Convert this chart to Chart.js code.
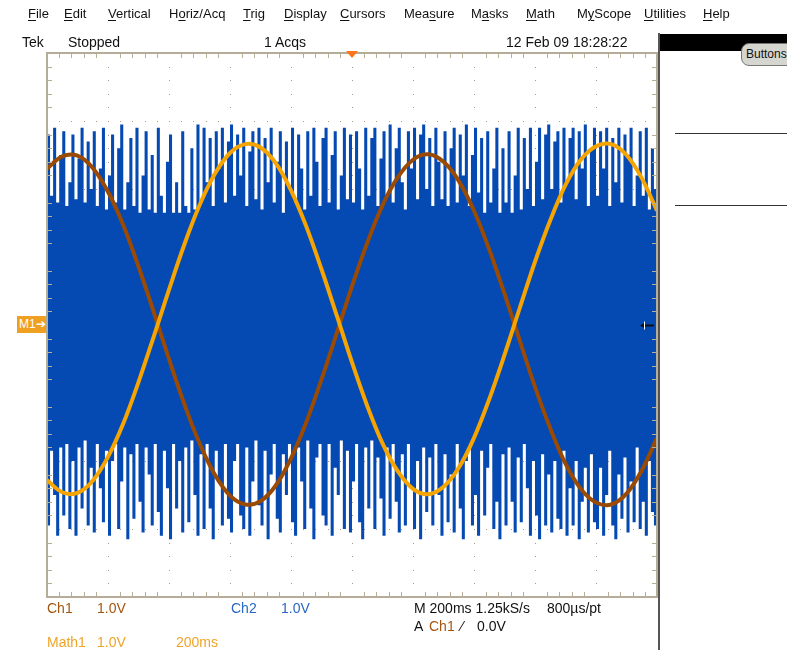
<!DOCTYPE html>
<html>
<head>
<meta charset="utf-8">
<script src="https://cdn.jsdelivr.net/npm/chart.js@4.4.1/dist/chart.umd.min.js"></script>
<style>
  html, body { margin: 0; padding: 0; background: #fff; }
  #wrap { position: relative; width: 787px; height: 650px; overflow: hidden; font-family: "Liberation Sans Narrow", "Liberation Sans", Arial, sans-serif; }
  #scope { position: absolute; left: 0; top: 0; }
  .t { position: absolute; white-space: nowrap; line-height: 14px; font-size: 14px; color: #111; }
  .menu { font-family: "Liberation Sans", Arial, sans-serif; font-size: 13px; top: 7px; }
  .menu u { text-decoration: underline; text-underline-offset: 2px; }
  .st { top: 35px; }
  .r1 { top: 601px; }
  .r2 { top: 619px; }
  .r3 { top: 635px; }
  .ch1 { color: #a3560f; }
  .ch2 { color: #2a66c4; }
  .m1 { color: #f0a42a; }
  #vline { position: absolute; left: 658px; top: 33px; width: 2px; height: 620px; background: #555; }
  #bar { position: absolute; left: 660px; top: 34px; width: 127px; height: 17px; background: #000; }
  #btn { position: absolute; left: 741px; top: 43px; width: 56px; height: 21px; background: #d6d6d0; border: 1px solid #777; border-radius: 8px; font-family: "Liberation Sans", Arial, sans-serif; font-size: 12px; line-height: 21px; padding-left: 4px; color: #111; }
  .hl { position: absolute; left: 675px; width: 112px; height: 1px; background: #333; }
  #m1 { position: absolute; left: 17px; top: 316px; width: 29px; height: 17px; background: #f0a020; color: #fff; font-size: 12px; line-height: 17px; padding-left: 2px; box-sizing: border-box; }
</style>
</head>
<body>
<div id="wrap">
  <canvas id="scope" width="787" height="650"></canvas>

  <span class="t menu" style="left:28px"><u>F</u>ile</span>
  <span class="t menu" style="left:64px"><u>E</u>dit</span>
  <span class="t menu" style="left:108px"><u>V</u>ertical</span>
  <span class="t menu" style="left:169px">H<u>o</u>riz/Acq</span>
  <span class="t menu" style="left:243px"><u>T</u>rig</span>
  <span class="t menu" style="left:284px"><u>D</u>isplay</span>
  <span class="t menu" style="left:340px"><u>C</u>ursors</span>
  <span class="t menu" style="left:404px">Mea<u>s</u>ure</span>
  <span class="t menu" style="left:471px">M<u>a</u>sks</span>
  <span class="t menu" style="left:526px"><u>M</u>ath</span>
  <span class="t menu" style="left:577px">M<u>y</u>Scope</span>
  <span class="t menu" style="left:644px"><u>U</u>tilities</span>
  <span class="t menu" style="left:703px"><u>H</u>elp</span>

  <span class="t st" style="left:22px">Tek</span>
  <span class="t st" style="left:68px">Stopped</span>
  <span class="t st" style="left:264px">1 Acqs</span>
  <span class="t st" style="left:506px">12 Feb 09 18:28:22</span>

  <div id="vline"></div>
  <div id="bar"></div>
  <div id="btn">Buttons</div>
  <div class="hl" style="top:133px"></div>
  <div class="hl" style="top:205px"></div>
  <div id="m1">M1➔</div>

  <span class="t r1 ch1" style="left:47px">Ch1</span>
  <span class="t r1 ch1" style="left:97px">1.0V</span>
  <span class="t r1 ch2" style="left:231px">Ch2</span>
  <span class="t r1 ch2" style="left:281px">1.0V</span>
  <span class="t r1" style="left:414px">M 200ms 1.25kS/s</span>
  <span class="t r1" style="left:547px">800µs/pt</span>
  <span class="t r2" style="left:414px">A</span>
  <span class="t r2 ch1" style="left:429px">Ch1</span>
  <span class="t r2" style="left:461px">⁄</span>
  <span class="t r2" style="left:477px">0.0V</span>
  <span class="t r3 m1" style="left:47px">Math1</span>
  <span class="t r3 m1" style="left:97px">1.0V</span>
  <span class="t r3 m1" style="left:176px">200ms</span>
</div>

<script>
// time axis in ms (10 div x 200 ms), vertical in volts (1.0 V/div, 8 div)
const sineTimesMs = [0, 50, 100, 150, 200, 250, 300, 350, 400, 450, 500, 550, 600, 650, 700, 750, 800, 850, 900, 950,
  1000, 1050, 1100, 1150, 1200, 1250, 1300, 1350, 1400, 1450, 1500, 1550, 1600, 1650, 1700, 1750, 1800, 1850, 1900, 1950, 2000];

// Ch1 (brown)
const ch1Volts = [2.30, 2.48, 2.49, 2.31, 1.96, 1.47, 0.86, 0.19, -0.50, -1.16,
  -1.74, -2.20, -2.51, -2.64, -2.59, -2.36, -1.96, -1.43, -0.80, -0.12,
  0.57, 1.21, 1.76, 2.17, 2.43, 2.51, 2.40, 2.12, 1.68, 1.11,
  0.46, -0.23, -0.91, -1.52, -2.04, -2.41, -2.61, -2.64, -2.48, -2.14, -1.66];

// Math1 (orange)
const math1Volts = [-2.28, -2.46, -2.47, -2.29, -1.94, -1.45, -0.84, -0.17, 0.52, 1.18,
  1.76, 2.22, 2.53, 2.66, 2.61, 2.38, 1.98, 1.45, 0.82, 0.14,
  -0.55, -1.19, -1.74, -2.15, -2.41, -2.49, -2.38, -2.10, -1.66, -1.09,
  -0.44, 0.25, 0.93, 1.54, 2.06, 2.43, 2.63, 2.66, 2.50, 2.16, 1.68];

// Ch2 (blue) switching signal: envelope per 10 ms column
const ch2ColumnMs = 10;
const ch2High = [
  2.8, 1.9, 2.9, 1.8, 2.5, 2.85, 1.75, 2.1, 2.8, 1.85,
  2.45, 2.9, 1.8, 2.7, 2.0, 2.85, 1.75, 2.3, 2.9, 1.7,
  2.2, 2.8, 1.8, 2.6, 2.95, 1.7, 2.1, 2.75, 1.75, 2.9,
  1.65, 2.2, 2.85, 1.7, 2.5, 1.65, 2.9, 1.9, 1.65, 2.4,
  2.8, 1.65, 2.1, 1.65, 2.85, 1.75, 1.65, 2.6, 1.7, 2.95,
  1.8, 2.9, 2.1, 2.75, 1.75, 2.85, 2.3, 2.9, 1.8, 2.7,
  2.95, 1.9, 2.8, 2.2, 2.9, 1.75, 2.55, 2.85, 1.85, 2.9,
  1.7, 2.75, 2.1, 2.9, 1.8, 2.4, 2.85, 1.65, 2.7, 2.0,
  2.9, 1.8, 2.8, 2.3, 1.7, 2.85, 1.9, 2.9, 2.4, 1.75,
  2.75, 2.9, 1.8, 2.5, 2.85, 1.7, 2.2, 2.9, 1.85, 2.8,
  1.8, 2.85, 2.3, 1.7, 2.9, 1.9, 2.75, 2.9, 1.75, 2.45,
  2.85, 1.9, 2.95, 1.8, 2.6, 2.9, 2.1, 1.7, 2.85, 2.3,
  2.9, 1.85, 2.8, 2.95, 2.0, 2.75, 1.75, 2.9, 2.4, 1.85,
  2.85, 1.75, 2.6, 2.9, 1.8, 2.8, 2.2, 2.95, 1.75, 2.5,
  2.9, 1.95, 2.75, 1.65, 2.85, 1.8, 2.3, 2.9, 1.65, 2.6,
  1.8, 2.85, 1.65, 2.2, 2.9, 1.7, 2.75, 2.0, 2.9, 1.75,
  2.4, 2.9, 1.85, 2.8, 2.95, 2.0, 2.7, 2.85, 1.8, 2.9,
  2.1, 2.75, 2.9, 1.85, 2.85, 2.3, 2.95, 1.75, 2.6, 2.9,
  1.9, 2.85, 2.3, 2.9, 1.75, 2.75, 2.1, 2.9, 1.8, 2.8,
  2.5, 2.9, 1.75, 2.2, 2.85, 1.9, 2.9, 1.7, 2.6, 2.0];
const ch2Low = [
  -2.95, -1.85, -2.5, -3.1, -1.8, -2.8, -1.75, -3.0, -2.0, -3.1,
  -1.8, -2.7, -1.7, -2.95, -2.1, -3.05, -1.75, -2.4, -2.9, -1.85,
  -3.1, -2.0, -1.75, -3.0, -2.3, -1.8, -3.15, -1.9, -2.85, -1.75,
  -2.6, -3.05, -1.8, -2.2, -2.95, -1.75, -2.75, -3.1, -1.85, -2.4,
  -3.15, -1.75, -2.7, -2.0, -3.05, -1.8, -2.9, -1.7, -2.5, -3.1,
  -1.9, -3.0, -1.75, -2.7, -3.15, -1.85, -2.3, -2.95, -1.75, -2.85,
  -3.05, -2.0, -1.75, -2.8, -3.0, -1.8, -3.1, -2.3, -1.7, -2.65,
  -2.95, -1.85, -3.15, -2.2, -1.75, -2.85, -3.05, -1.9, -2.5, -1.75,
  -2.9, -3.1, -1.8, -2.3, -3.0, -1.7, -2.7, -3.15, -1.95, -1.75,
  -2.8, -2.95, -1.75, -3.1, -2.1, -2.5, -1.7, -3.0, -1.85, -3.05,
  -2.3, -1.75, -2.9, -3.15, -1.8, -2.7, -1.7, -3.0, -1.95, -2.55,
  -3.1, -1.8, -2.85, -1.75, -2.6, -3.05, -1.9, -2.95, -1.75, -2.4,
  -3.0, -2.0, -3.15, -1.8, -2.75, -1.95, -2.95, -1.75, -2.5, -3.1,
  -1.9, -2.9, -2.2, -3.05, -1.75, -2.7, -3.15, -2.0, -1.8, -2.95,
  -2.5, -3.1, -1.85, -2.8, -2.1, -1.75, -3.0, -2.6, -3.15, -1.9,
  -2.95, -1.8, -2.6, -3.05, -1.95, -2.9, -1.75, -2.4, -3.1, -2.0,
  -2.8, -3.15, -1.9, -2.95, -2.2, -3.05, -2.0, -2.85, -3.0, -1.85,
  -3.1, -2.4, -2.95, -2.0, -3.15, -2.6, -2.1, -3.05, -1.9, -2.9,
  -3.0, -2.1, -3.1, -2.5, -1.85, -2.95, -3.15, -2.2, -2.85, -1.95,
  -3.05, -2.3, -2.9, -1.8, -3.0, -2.6, -3.1, -2.0, -2.75, -2.95];

const timeDivMs = 200;
const voltDiv = 1;

function stepPoints(values) {
    const pts = values.map((v, i) => ({ x: i * ch2ColumnMs, y: v }));
    pts.push({ x: values.length * ch2ColumnMs, y: values[values.length - 1] });
    return pts;
}

const graticule = {
    id: 'graticule',
    beforeDatasetsDraw(chart) {
        const { ctx, scales: { x, y } } = chart;
        ctx.save();
        ctx.fillStyle = '#a39b86';
        // dotted division lines
        for (let d = 1; d < 10; d++) {
            const px = Math.round(x.getPixelForValue(d * timeDivMs));
            for (let s = 1; s < 40; s++) {
                ctx.fillRect(px, Math.round(y.getPixelForValue(-4 + s * 0.2)), 1, 1);
            }
        }
        for (let d = 1; d < 8; d++) {
            const py = Math.round(y.getPixelForValue(-4 + d));
            for (let s = 1; s < 50; s++) {
                ctx.fillRect(Math.round(x.getPixelForValue(s * timeDivMs / 5)), py, 1, 1);
            }
        }
        ctx.restore();
    },
    afterDatasetsDraw(chart) {
        const { ctx, chartArea: a, scales: { x, y } } = chart;
        ctx.save();
        ctx.strokeStyle = '#b5ad98';
        ctx.lineWidth = 1;
        ctx.beginPath();
        // edge ticks
        for (let s = 1; s < 50; s++) {
            const px = Math.round(x.getPixelForValue(s * timeDivMs / 5)) + 0.5;
            const len = s % 5 === 0 ? 0 : 5;
            ctx.moveTo(px, a.top); ctx.lineTo(px, a.top + len);
            ctx.moveTo(px, a.bottom); ctx.lineTo(px, a.bottom - len);
        }
        for (let s = 1; s < 40; s++) {
            const py = Math.round(y.getPixelForValue(-4 + s * 0.2)) + 0.5;
            const len = s % 5 === 0 ? 0 : 5;
            ctx.moveTo(a.left, py); ctx.lineTo(a.left + len, py);
            ctx.moveTo(a.right, py); ctx.lineTo(a.right - len, py);
        }
        ctx.stroke();
        // border
        ctx.lineWidth = 2;
        ctx.strokeRect(a.left, a.top, a.right - a.left, a.bottom - a.top);
        // trigger position marker
        const tx = x.getPixelForValue(5 * timeDivMs);
        ctx.fillStyle = '#ff7418';
        ctx.beginPath();
        ctx.moveTo(tx - 6, a.top - 2); ctx.lineTo(tx + 6, a.top - 2); ctx.lineTo(tx, a.top + 5);
        ctx.closePath(); ctx.fill();
        // ch2 reference marker on right edge
        const ry = Math.round(y.getPixelForValue(0)) + 0.5;
        ctx.fillStyle = '#111';
        ctx.strokeStyle = '#111';
        ctx.beginPath();
        ctx.moveTo(a.right - 17, ry); ctx.lineTo(a.right - 12, ry - 3); ctx.lineTo(a.right - 12, ry + 3);
        ctx.closePath(); ctx.fill();
        ctx.beginPath(); ctx.moveTo(a.right - 12, ry); ctx.lineTo(a.right - 3, ry); ctx.stroke();
        ctx.fillStyle = '#fff';
        ctx.fillRect(a.right - 13, ry - 4, 1, 8);
        ctx.restore();
    }
};

const scopeCanvas = document.getElementById('scope');

new Chart(scopeCanvas, {
    type: 'line',
    data: {
        datasets: [
            {
                label: 'Math1',
                data: sineTimesMs.map((t, i) => ({ x: t, y: math1Volts[i] })),
                borderColor: '#f5a400',
                borderWidth: 4,
                tension: 0.35,
                pointRadius: 0,
                order: 1,
            },
            {
                label: 'Ch1',
                data: sineTimesMs.map((t, i) => ({ x: t, y: ch1Volts[i] })),
                borderColor: '#9a4a02',
                borderWidth: 4,
                tension: 0.35,
                pointRadius: 0,
                order: 2,
            },
            {
                label: 'Ch2 high',
                data: stepPoints(ch2High),
                stepped: true,
                borderWidth: 0,
                borderColor: 'rgba(0,0,0,0)',
                backgroundColor: '#0549b2',
                fill: '+1',
                pointRadius: 0,
                order: 3,
            },
            {
                label: 'Ch2 low',
                data: stepPoints(ch2Low),
                stepped: true,
                borderWidth: 0,
                borderColor: 'rgba(0,0,0,0)',
                pointRadius: 0,
                fill: false,
                order: 4,
            },
        ]
    },
    options: {
        responsive: false,
        animation: false,
        layout: { padding: { left: 47, top: 53, right: 130, bottom: 53 } },
        plugins: { legend: { display: false }, tooltip: { enabled: false } },
        scales: {
            x: { type: 'linear', min: 0, max: 10 * timeDivMs, display: false },
            y: { type: 'linear', min: -4 * voltDiv, max: 4 * voltDiv, display: false },
        }
    },
    plugins: [graticule]
});
</script>
</body>
</html>
